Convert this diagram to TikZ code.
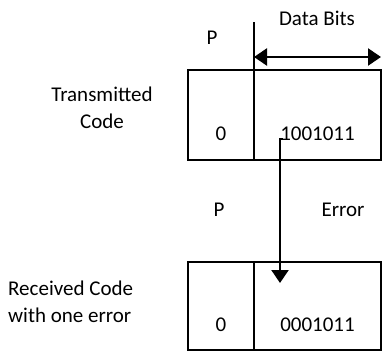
\documentclass[tikz,border=0pt]{standalone}
\usepackage{fontspec}
\setmainfont{Carlito}
\usepackage{tikz}
\usetikzlibrary{arrows.meta,positioning}
\tikzstyle{cell} = [rectangle, draw=black, line width=1.6pt, outer sep=0pt, minimum height=90pt, inner sep=0pt]
\tikzstyle{bits} = [inner sep=0pt, font=\fontsize{21}{27}\selectfont]
\tikzstyle{label} = [inner sep=0pt, font=\fontsize{21}{27}\selectfont, align=center]
\tikzstyle{span} = [line width=2.4pt,{Triangle[width=17pt,length=13pt]}-{Triangle[width=17pt,length=13pt]}]
\tikzstyle{arrow} = [line width=2.2pt,-{Triangle[width=17pt,length=13pt]}]

\begin{document}
\begin{tikzpicture}[x=1pt,y=-1pt]
\useasboundingbox (0,0) rectangle (382,352);
\node (p1) [cell, minimum width=66pt, anchor=north west] at (188,70) {};
\node (d1) [cell, minimum width=127pt, right=0pt of p1] {};
\node (p2) [cell, minimum width=66pt, minimum height=88pt, anchor=north west] at (188,262) {};
\node (d2) [cell, minimum width=127pt, minimum height=88pt, right=0pt of p2] {};
\coordinate (divtop) at ([yshift=48pt]d1.north west);
\draw[line width=1.4pt] (d1.north west) -- (divtop);
\coordinate (spanl) at ([yshift=13pt]d1.north west);
\coordinate (spanr) at ([yshift=13pt]d1.north east);
\draw[span] (spanl) -- (spanr);
\node (bitshead) [label] at (317,18) {Data Bits};
\node (phead) [label] at (212,38) {P};
\node (z1) [bits] at ([yshift=26pt]p1.south) {0};
\node (t1) [bits] at ([yshift=26pt]d1.south) {1001011};
\node (z2) [bits] at ([yshift=25pt]p2.south) {0};
\node (t2) [bits] at ([yshift=25pt]d2.south) {0001011};
\node (pmid) [label] at (219,210) {P};
\node (err) [label] at (343,210) {Error};
\node (sent) [label] at (102,108) {Transmitted\\Code};
\node (recv) [label, align=left, anchor=west] at (8,302) {Received Code\\with one error};
\coordinate (tap) at (283,139);
\coordinate (hit) at (280,283);
\draw[arrow] (tap) -| (hit);
\end{tikzpicture}
\end{document}
